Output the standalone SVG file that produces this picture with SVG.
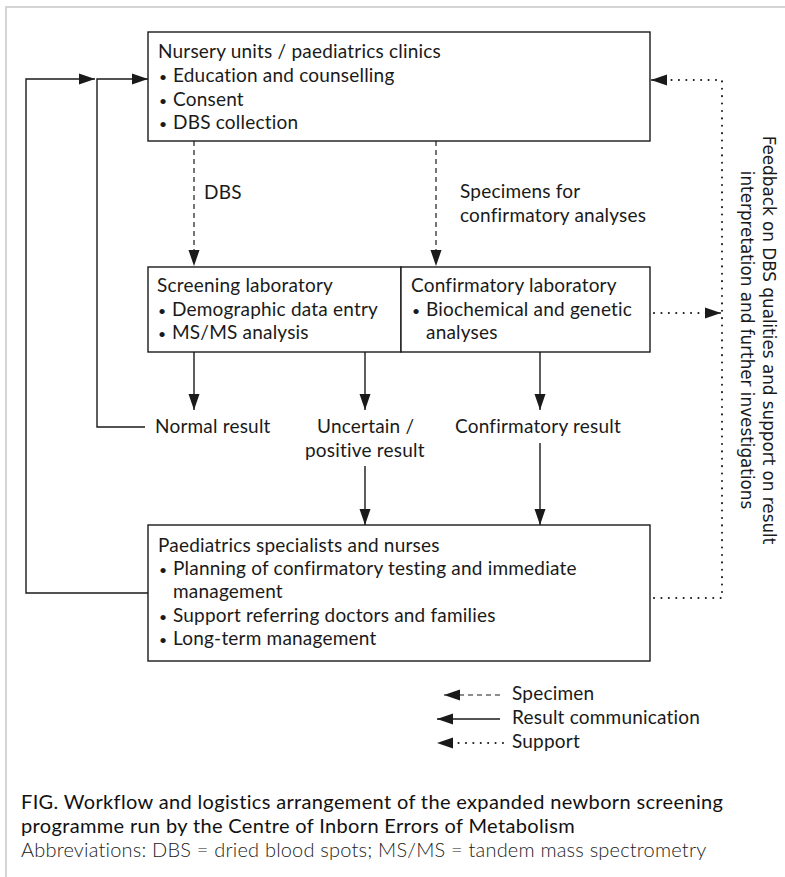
<svg xmlns="http://www.w3.org/2000/svg" width="785" height="877" viewBox="0 0 785 877">
<style>
  .t { font-family: Lato, "Open Sans", "Liberation Sans", sans-serif; font-size: 19px; letter-spacing: 0.2px; fill: #1a1a1a; }
  .b { font-size: 14px; }
  .v { font-family: "DejaVu Sans", "Liberation Sans", sans-serif; font-size: 16.8px; fill: #1a1a1a; }
  .cap { font-family: Lato, "Liberation Sans", sans-serif; font-size: 20px; letter-spacing: 0.35px; fill: #111; }
  .abbr { font-family: Lato, "Liberation Sans", sans-serif; font-size: 20px; letter-spacing: 0.2px; fill: #222; font-weight: 300; }
  .box { fill: #fff; stroke: #1a1a1a; stroke-width: 1.4; }
  .solid { fill: none; stroke: #1a1a1a; stroke-width: 1.4; }
  .dash { fill: none; stroke: #1a1a1a; stroke-width: 1.2; stroke-dasharray: 5 4; }
  .dot { fill: none; stroke: #1a1a1a; stroke-width: 2; stroke-dasharray: 0.1 7.3; stroke-linecap: round; }
</style>
<defs>
  <marker id="ah" markerUnits="userSpaceOnUse" markerWidth="17" markerHeight="12" refX="16" refY="6" orient="auto">
    <path d="M0,0.5 L16,6 L0,11.5 z" fill="#1a1a1a"/>
  </marker>
</defs>
<rect x="0" y="0" width="785" height="877" fill="#fff"/>
<path d="M6,877 V7 H785" fill="none" stroke="#c8c8c8" stroke-width="1.5"/>

<g id="connectors">
  <path class="solid" d="M148,593 H26 V79 H95" marker-end="url(#ah)"/>
  <path class="solid" d="M145,427 H97 V79 H148" marker-end="url(#ah)"/>
  <path class="dash" d="M194,141 V266" marker-end="url(#ah)"/>
  <path class="dash" d="M436,141 V266" marker-end="url(#ah)"/>
  <path class="solid" d="M194,352 V410" marker-end="url(#ah)"/>
  <path class="solid" d="M365,352 V410" marker-end="url(#ah)"/>
  <path class="solid" d="M540,352 V410" marker-end="url(#ah)"/>
  <path class="solid" d="M365,466 V525" marker-end="url(#ah)"/>
  <path class="solid" d="M540,443 V525" marker-end="url(#ah)"/>
  <path class="dot" d="M654,598 H722 V80 H668"/>
  <path class="solid" d="M666,80 H651" stroke="none" marker-end="url(#ah)"/>
  <path class="dot" d="M654,313 H708"/>
  <path class="solid" d="M705,313 H721" stroke="none" marker-end="url(#ah)"/>
</g>

<g id="nursery">
  <rect class="box" x="148" y="32" width="502" height="109"/>
  <text class="t" x="158" y="58">Nursery units / paediatrics clinics</text>
  <text class="t" y="82"><tspan class="b" x="159">•</tspan><tspan x="173">Education and counselling</tspan></text>
  <text class="t" y="106"><tspan class="b" x="159">•</tspan><tspan x="173">Consent</tspan></text>
  <text class="t" y="129"><tspan class="b" x="159">•</tspan><tspan x="173">DBS collection</tspan></text>
</g>

<g id="screening">
  <rect class="box" x="148" y="267" width="253" height="85"/>
  <text class="t" x="157" y="292">Screening laboratory</text>
  <text class="t" y="316"><tspan class="b" x="158">•</tspan><tspan x="172">Demographic data entry</tspan></text>
  <text class="t" y="339"><tspan class="b" x="158">•</tspan><tspan x="172">MS/MS analysis</tspan></text>
</g>

<g id="confirmatory">
  <rect class="box" x="401" y="267" width="249" height="85"/>
  <text class="t" x="411" y="292">Confirmatory laboratory</text>
  <text class="t" y="316"><tspan class="b" x="412">•</tspan><tspan x="426">Biochemical and genetic</tspan></text>
  <text class="t" x="426" y="339">analyses</text>
</g>

<g id="specialists">
  <rect class="box" x="148" y="525" width="502" height="136"/>
  <text class="t" x="158" y="552">Paediatrics specialists and nurses</text>
  <text class="t" y="575"><tspan class="b" x="159">•</tspan><tspan x="173">Planning of confirmatory testing and immediate</tspan></text>
  <text class="t" x="173" y="598">management</text>
  <text class="t" y="622"><tspan class="b" x="159">•</tspan><tspan x="173">Support referring doctors and families</tspan></text>
  <text class="t" y="645"><tspan class="b" x="159">•</tspan><tspan x="173">Long-term management</tspan></text>
</g>

<g id="labels">
  <text class="t" x="204" y="199">DBS</text>
  <text class="t" x="460" y="198">Specimens for</text>
  <text class="t" x="460" y="222">confirmatory analyses</text>
  <text class="t" x="155" y="433">Normal result</text>
  <text class="t" x="317" y="433">Uncertain /</text>
  <text class="t" x="305" y="457">positive result</text>
  <text class="t" x="455" y="433">Confirmatory result</text>
</g>

<g id="feedback">
  <text class="v" transform="translate(763,340) rotate(90)" text-anchor="middle">Feedback on DBS qualities and support on result</text>
  <text class="v" transform="translate(741,340) rotate(90)" text-anchor="middle">interpretation and further investigations</text>
</g>

<g id="legend">
  <path class="dash" d="M500,695 H444" stroke-dasharray="4 3" marker-end="url(#ah)"/>
  <path class="solid" d="M500,719 H437" marker-end="url(#ah)"/>
  <path class="dot" d="M503,743 H458"/>
  <path d="M455,743 H437" stroke="none" fill="none" marker-end="url(#ah)"/>
  <text class="t" x="512" y="700">Specimen</text>
  <text class="t" x="512" y="724">Result communication</text>
  <text class="t" x="512" y="748">Support</text>
</g>

<g id="caption">
  <text class="cap" x="21" y="809">FIG. Workflow and logistics arrangement of the expanded newborn screening</text>
  <text class="cap" x="21" y="833">programme run by the Centre of Inborn Errors of Metabolism</text>
  <text class="abbr" x="21" y="857">Abbreviations: DBS = dried blood spots; MS/MS = tandem mass spectrometry</text>
</g>
</svg>
